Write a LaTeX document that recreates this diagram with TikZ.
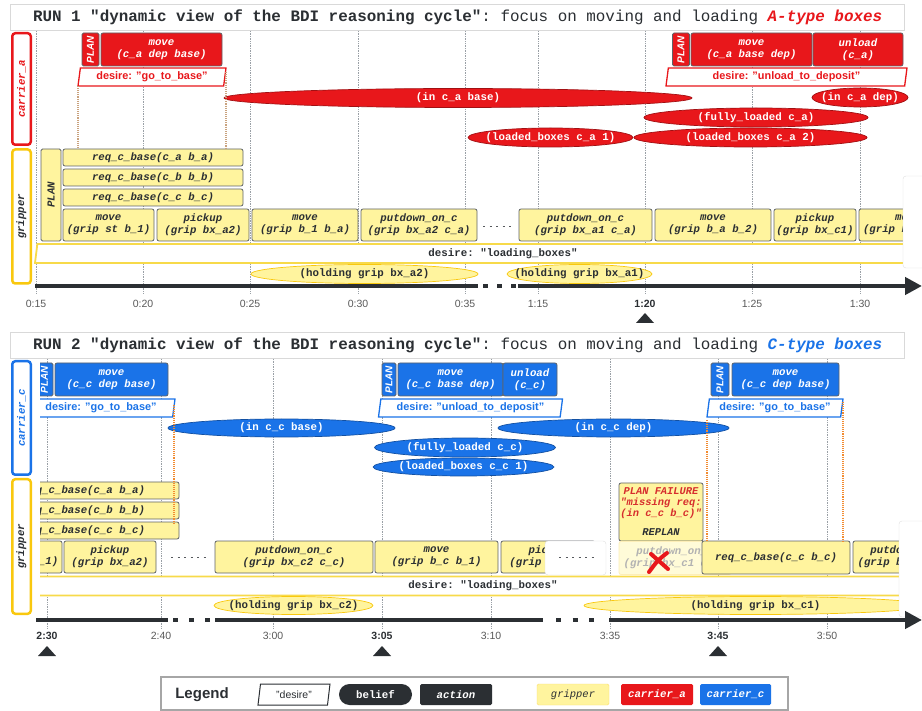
\documentclass[tikz,border=0pt]{standalone}
\usepackage{fontspec}
\setmainfont{Liberation Sans}
\setsansfont{Liberation Sans}
\setmonofont{Liberation Mono}
\usetikzlibrary{shapes.geometric,arrows.meta}

\definecolor{cara}{HTML}{E8171B}
\definecolor{carc}{HTML}{1A73E8}
\definecolor{gripfill}{HTML}{FFF49E}
\definecolor{gripline}{HTML}{F9C80E}
\definecolor{bandline}{HTML}{F7DA4A}
\definecolor{actline}{HTML}{5F6368}
\definecolor{ink}{HTML}{2B2F33}
\definecolor{gridc}{HTML}{9AA0A6}
\definecolor{desA}{HTML}{C9A27E}
\definecolor{desC}{HTML}{F28B30}
\definecolor{failred}{HTML}{D62D2D}

\newcommand\actfont{\ttfamily\bfseries\itshape\fontsize{10.7}{11.5}\selectfont}
\newcommand\belfont{\ttfamily\bfseries\fontsize{10.8}{12}\selectfont}
\newcommand\desfont{\sffamily\bfseries\fontsize{10.9}{12}\selectfont}
\newcommand\titlefont{\ttfamily\fontsize{15.9}{18}\selectfont}
\newcommand\tickfont{\sffamily\fontsize{10.5}{12}\selectfont}
\newcommand\planfont{\sffamily\bfseries\itshape\fontsize{10}{12}\selectfont}

\tikzset{
  titlebar/.style={draw=gray!30, fill=white, minimum width=894, minimum height=26, inner sep=0pt},
  titletext/.style={anchor=west, font=\titlefont, text=ink, inner sep=0pt},
  lanebox/.style={draw=#1, text=#1, fill=white, line width=2.5pt, rounded corners=3pt, rotate=90,
    inner sep=0pt, minimum height=18.5, font=\actfont},
  plantag/.style={draw=actline, line width=0.8pt, rounded corners=1.5pt, rotate=90,
    inner sep=0pt, font=\planfont},
  act/.style={draw=actline, line width=0.8pt, rounded corners=2pt, inner sep=0pt,
    align=center, font=\actfont},
  actA/.style={act, fill=cara, text=white},
  actC/.style={act, fill=carc, text=white},
  actG/.style={act, fill=gripfill, text=ink},
  desire/.style={trapezium, trapezium left angle=77, trapezium right angle=103,
    trapezium stretches body, draw=#1, text=#1, fill=white, line width=1.3pt,
    inner sep=0pt, minimum height=18, font=\desfont},
  belief/.style={ellipse, inner sep=0pt, line width=0.7pt},
  belA/.style={belief, fill=cara, draw=cara!70!black},
  belC/.style={belief, fill=carc, draw=carc!70!black},
  belG/.style={belief, fill=gripfill, draw=gripline},
  btw/.style={font=\belfont, text=white},
  btk/.style={font=\belfont, text=ink},
  gridline/.style={gridc, densely dotted, line width=0.7pt},
  desline/.style={densely dotted, line width=1.1pt},
  dotrow/.style={ink!80, dash pattern=on 2pt off 4.5pt, line width=0.9pt},
  timeline/.style={ink, line width=4.5pt},
  cover/.style={draw=gray!25, fill=white, rounded corners=3pt},
  tick/.style={font=\tickfont, text=black!65},
  tickb/.style={font=\tickfont\bfseries, text=ink},
  legitem/.style={minimum width=72, minimum height=21, inner sep=0pt}
}

\begin{document}
\begin{tikzpicture}[x=1pt, y=-1pt]
  \useasboundingbox (0,0) rectangle (922,711);

  % ---------------- RUN 1 ----------------
  \node[titlebar] (title1) at (457,17) {};
  \node[titletext] (title1txt) at ([xshift=23pt]title1.west)
    {\textbf{RUN 1 "dynamic view of the BDI reasoning cycle"}: focus on moving and loading \textcolor{cara}{\textbf{\textit{A-type boxes}}}};

  \foreach \x/\t/\s in {36/0:15/tick, 143/0:20/tick, 250/0:25/tick, 358/0:30/tick, 465/0:35/tick,
      538/1:15/tick, 645/1:20/tickb, 752/1:25/tick, 860/1:30/tick}{
    \draw[gridline] (\x,31) -- (\x,294);
    \node[\s] (ta\x) at (\x,304) {\t};
  }

  \node[lanebox=cara, minimum width=111.5] (laneA) at (21.5,89) {carrier\_a};
  \node[lanebox=gripline, text=ink, minimum width=134] (laneG1) at (21.5,216.5) {gripper};

  % carrier_a
  \node[plantag, fill=cara, text=white, minimum width=33, minimum height=17] (planA1) at (90.5,49.5) {PLAN};
  \node[actA, minimum width=121, minimum height=33] (moveA1) at (161.5,49.5) {move\\(c\_a dep base)};
  \node[desire=cara, minimum width=148] (desA1) at (152,77) {desire: "go\_to\_base"};
  \node[belA, minimum width=468, minimum height=19, label={[btw]center:(in c\_a base)}] (inA1) at (458,98) {};
  \node[plantag, fill=cara, text=white, minimum width=33, minimum height=17] (planA2) at (681,49.5) {PLAN};
  \node[actA, minimum width=121, minimum height=33] (moveA2) at (751.5,49.5) {move\\(c\_a base dep)};
  \node[actA, minimum width=90, minimum height=33] (unloadA) at (858,49.5) {unload\\(c\_a)};
  \node[desire=cara, minimum width=241] (desA2) at (786.5,77) {desire: "unload\_to\_deposit"};
  \node[belA, minimum width=96, minimum height=19, label={[btw]center:(in c\_a dep)}] (inA2) at (860,97.5) {};
  \node[belA, minimum width=224, minimum height=19, label={[btw]center:(fully\_loaded c\_a)}] (fullA) at (756,117.5) {};
  \node[belA, minimum width=165, minimum height=19, label={[btw]center:(loaded\_boxes c\_a 1)}] (loadA1) at (550.5,137.5) {};
  \node[belA, minimum width=233, minimum height=19, label={[btw]center:(loaded\_boxes c\_a 2)}] (loadA2) at (750.5,137.5) {};

  % gripper
  \node[plantag, fill=gripfill, text=ink, font=\actfont, minimum width=92, minimum height=20] (planG1) at (51,195) {PLAN};
  \node[actG, minimum width=180, minimum height=17] (reqA1) at (153,157.5) {req\_c\_base(c\_a b\_a)};
  \node[actG, minimum width=180, minimum height=17] (reqB1) at (153,177.5) {req\_c\_base(c\_b b\_b)};
  \node[actG, minimum width=180, minimum height=17] (reqC1) at (153,197.5) {req\_c\_base(c\_c b\_c)};
  \node[actG, minimum width=91, minimum height=32] (moveG11) at (108.5,225) {move\\(grip st b\_1)};
  \node[actG, minimum width=92, minimum height=32] (pickG11) at (203,225) {pickup\\(grip bx\_a2)};
  \node[actG, minimum width=106, minimum height=32] (moveG12) at (305,225) {move\\(grip b\_1 b\_a)};
  \node[actG, minimum width=116, minimum height=32] (putG11) at (419,225) {putdown\_on\_c\\(grip bx\_a2 c\_a)};
  \draw[dotrow] (483,226) -- (515,226);
  \node[actG, minimum width=133, minimum height=32] (putG12) at (585.5,225) {putdown\_on\_c\\(grip bx\_a1 c\_a)};
  \node[actG, minimum width=116, minimum height=32] (moveG13) at (713,225) {move\\(grip b\_a b\_2)};
  \node[actG, minimum width=82, minimum height=32] (pickG12) at (815,225) {pickup\\(grip bx\_c1)};
  \node[actG, minimum width=98, minimum height=32] (moveG14) at (908,225) {move\\(grip b\_2 b\_c)};
  \node[desire=bandline, text=ink, font=\belfont, line width=1.8pt, minimum width=936, minimum height=19] (desG1) at (503,253.5) {desire: "loading\_boxes"};
  \node[belG, minimum width=227, minimum height=19, label={[btk]center:(holding grip bx\_a2)}] (holdA2) at (364.5,274) {};
  \node[belG, minimum width=145, minimum height=19, label={[btk]center:(holding grip bx\_a1)}] (holdA1) at (579.5,274) {};
  \draw[cover] (903,176) rectangle (935,268);

  \draw[desA, desline] (78,86) -- (78,148);
  \draw[desA, desline] (226,72) -- (226,148);

  \draw[timeline] (35,286) -- (478,286);
  \draw[timeline, dash pattern=on 5pt off 9pt] (483,286) -- (516,286);
  \draw[timeline, -{Triangle[length=17pt,width=17pt]}] (518,286) -- (922,286);
  \fill[ink] (636,323) -- (645,313) -- (654,323) -- cycle;

  % ---------------- RUN 2 ----------------
  \node[titlebar] (title2) at (457,345.5) {};
  \node[titletext] (title2txt) at ([xshift=23pt]title2.west)
    {\textbf{RUN 2 "dynamic view of the BDI reasoning cycle"}: focus on moving and loading \textcolor{carc}{\textbf{\textit{C-type boxes}}}};

  \foreach \x/\t/\s in {47/2:30/tickb, 161/2:40/tick, 273/3:00/tick, 382/3:05/tickb, 491/3:10/tick,
      610/3:35/tick, 718/3:45/tickb, 827/3:50/tick}{
    \draw[gridline] (\x,359) -- (\x,628);
    \node[\s] (tb\x) at (\x,636) {\t};
  }

  \node[lanebox=carc, minimum width=113.5] (laneC) at (21.5,418) {carrier\_c};
  \node[lanebox=gripline, text=ink, minimum width=134.5] (laneG2) at (21.5,546.5) {gripper};

  \begin{scope}
    \clip (40,359) rectangle (922,617);
    % carrier_c
    \node[plantag, fill=carc, text=white, minimum width=33, minimum height=17] (planC1) at (44.5,379.5) {PLAN};
    \node[actC, minimum width=113, minimum height=33] (moveC1) at (111.5,379.5) {move\\(c\_c dep base)};
    \node[desire=carc, minimum width=148] (desC1) at (101,408) {desire: "go\_to\_base"};
    \node[belC, minimum width=227, minimum height=18, label={[btw]center:(in c\_c base)}] (inC1) at (281.5,428) {};
    \node[plantag, fill=carc, text=white, minimum width=33, minimum height=14] (planC2) at (389,379.5) {PLAN};
    \node[actC, minimum width=105, minimum height=33] (moveC2) at (450.5,379.5) {move\\(c\_c base dep)};
    \node[actC, minimum width=54, minimum height=33] (unloadC) at (530,379.5) {unload\\(c\_c)};
    \node[desire=carc, minimum width=184] (desC2) at (470.5,408) {desire: "unload\_to\_deposit"};
    \node[belC, minimum width=231, minimum height=18, label={[btw]center:(in c\_c dep)}] (inC2) at (613.5,428) {};
    \node[belC, minimum width=181, minimum height=19, label={[btw]center:(fully\_loaded c\_c)}] (fullC) at (465,447.5) {};
    \node[belC, minimum width=181, minimum height=18, label={[btw]center:(loaded\_boxes c\_c 1)}] (loadC1) at (463.5,467) {};
    \node[plantag, fill=carc, text=white, minimum width=33, minimum height=18] (planC3) at (720,379.5) {PLAN};
    \node[actC, minimum width=107, minimum height=33] (moveC3) at (785.5,379.5) {move\\(c\_c dep base)};
    \node[desire=carc, minimum width=136] (desC3) at (775,408) {desire: "go\_to\_base"};

    % gripper
    \node[actG, minimum width=190, minimum height=17] (reqA2) at (84,490.5) {req\_c\_base(c\_a b\_a)};
    \node[actG, minimum width=190, minimum height=17] (reqB2) at (84,510.5) {req\_c\_base(c\_b b\_b)};
    \node[actG, minimum width=190, minimum height=17] (reqC2) at (84,530.5) {req\_c\_base(c\_c b\_c)};
    \node[actG, minimum width=91, minimum height=32] (moveG21) at (16.5,557) {move\\(grip st b\_1)};
    \node[actG, minimum width=92, minimum height=32] (pickG21) at (110,557) {pickup\\(grip bx\_a2)};
    \draw[dotrow] (171,557) -- (208,557);
    \node[actG, minimum width=158, minimum height=32] (putG21) at (294,557) {putdown\_on\_c\\(grip bx\_c2 c\_c)};
    \node[actG, minimum width=123, minimum height=32] (moveG22) at (436.5,557) {move\\(grip b\_c b\_1)};
    \node[actG, minimum width=94, minimum height=32] (pickG22) at (548,557) {pickup\\(grip bx\_c1)};
    \draw[cover] (545,541) rectangle (606,575);
    \draw[dotrow] (559,557) -- (597,557);
    \node[actG, minimum width=84, minimum height=58, font=\actfont\fontsize{10.4}{11}\selectfont] (fail) at (661,512)
      {\textcolor{failred}{PLAN FAILURE}\\\textcolor{failred}{"missing req:}\\\textcolor{failred}{(in c\_c b\_c)"}\\[8pt]REPLAN};
    \node[actG, fill=gripfill!40, draw=gripline!30, text=gray!60, minimum width=112, minimum height=33] (putFail) at (675,558) {putdown\_on\_c\\(grip bx\_c1 c\_c)};
    \draw[cara, line width=4pt, line cap=round] (651,554) .. controls (660,561) .. (668,569);
    \draw[cara, line width=4pt, line cap=round] (667,553) .. controls (658,560) .. (649,572);
    \node[actG, minimum width=148, minimum height=33] (reqC3) at (776,557.5) {req\_c\_base(c\_c b\_c)};
    \node[actG, minimum width=112, minimum height=32] (putG22) at (909,557) {putdown\_on\_c\\(grip bx\_c1 c\_c)};
    \node[desire=bandline, text=ink, font=\belfont, line width=1.8pt, minimum width=906, minimum height=19] (desG2) at (483,586) {desire: "loading\_boxes"};
    \node[belG, minimum width=159, minimum height=18, label={[btk]center:(holding grip bx\_c2)}] (holdC2) at (293.5,605.5) {};
    \node[belG, minimum width=343, minimum height=18, label={[btk]center:(holding grip bx\_c1)}] (holdC1) at (755.5,605.5) {};
    \draw[cover] (899,521) rectangle (935,617);
  \end{scope}

  \draw[desC, desline] (174,405) -- (174,523);
  \draw[desC, desline] (707,420) -- (707,541);
  \draw[desC, desline] (843,402) -- (843,542);

  \draw[timeline] (36,620) -- (168,620);
  \draw[timeline, dash pattern=on 5pt off 11pt] (173,620) -- (211,620);
  \draw[timeline] (215,620) -- (543,620);
  \draw[timeline, dash pattern=on 5pt off 11.5pt] (556,620) -- (597,620);
  \draw[timeline, -{Triangle[length=17pt,width=17pt]}] (609,620) -- (922,620);
  \foreach \x in {47,382,718}
    \fill[ink] (\x-9,656) -- (\x,646) -- (\x+9,656) -- cycle;

  % ---------------- legend ----------------
  \node[draw=gray!70, line width=1.2pt, fill=white, minimum width=627, minimum height=33, inner sep=0pt] (legend) at (474.5,693.5) {};
  \node[font=\sffamily\bfseries\fontsize{15}{16}\selectfont, text=ink] (legtitle) at (202,694.5) {Legend};
  \node[desire=ink, trapezium left angle=72, trapezium right angle=108, line width=1pt, minimum width=72, minimum height=21,
    font=\sffamily\fontsize{10.5}{12}\selectfont] (legdes) at (294,694.5) {"desire"};
  \node[legitem, fill=ink, rounded corners=10.5pt, minimum width=73, text=white, font=\belfont] (legbel) at (375.5,694.5) {belief};
  \node[legitem, fill=ink, rounded corners=1.5pt, text=white, font=\actfont] (legact) at (456,694.5) {action};
  \node[legitem, fill=gripfill, draw=gripline!60, rounded corners=1.5pt, text=ink,
    font=\ttfamily\itshape\fontsize{10.5}{12}\selectfont] (leggrip) at (573,694.5) {gripper};
  \node[legitem, fill=cara, rounded corners=1.5pt, text=white, font=\actfont] (legcara) at (657,694.5) {carrier\_a};
  \node[legitem, fill=carc, rounded corners=1.5pt, minimum width=71, text=white, font=\actfont] (legcarc) at (735.5,694.5) {carrier\_c};
\end{tikzpicture}
\end{document}
